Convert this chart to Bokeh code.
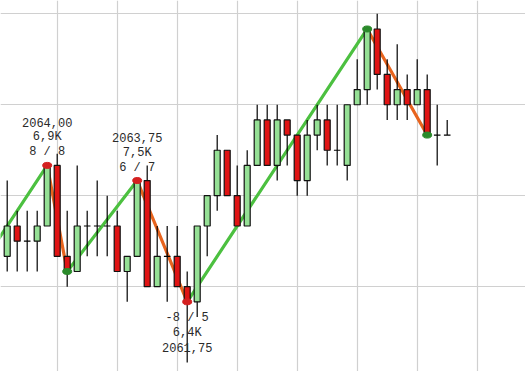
from bokeh.plotting import figure
from bokeh.models import Range1d, FixedTicker, ColumnDataSource
from bokeh.core.properties import value
from bokeh.embed import file_html
from bokeh.resources import INLINE

# ---- data ----
opens = [2062.50, 2063.00, 2062.75, 2062.75, 2063.00, 2064.00, 2062.50, 2062.25, 2063.00, 2063.00,
         2063.00, 2063.00, 2062.25, 2062.50, 2063.75, 2062.00, 2062.50, 2062.50, 2062.00, 2061.75,
         2063.00, 2063.50, 2064.25, 2063.50, 2063.00, 2064.00, 2064.75, 2064.00, 2064.75, 2064.50,
         2063.75, 2064.50, 2064.75, 2064.25, 2064.00, 2065.00, 2065.25, 2066.25, 2065.50, 2065.00,
         2065.25, 2065.00, 2065.25, 2064.50, 2064.50]
highs = [2063.75, 2063.25, 2063.25, 2063.25, 2064.00, 2064.19, 2063.25, 2064.00, 2063.25, 2063.75,
         2063.50, 2063.25, 2062.50, 2063.75, 2064.00, 2063.00, 2063.00, 2063.00, 2062.25, 2063.00,
         2063.50, 2064.50, 2064.25, 2064.00, 2064.25, 2065.00, 2065.00, 2065.00, 2064.75, 2064.50,
         2064.75, 2065.00, 2065.00, 2065.00, 2065.00, 2065.75, 2066.25, 2066.50, 2065.75, 2066.00,
         2065.50, 2065.75, 2065.50, 2065.00, 2064.75]
lows = [2062.25, 2062.25, 2062.25, 2062.25, 2063.00, 2062.50, 2062.00, 2062.25, 2062.50, 2062.50,
        2062.50, 2062.25, 2061.75, 2062.50, 2062.00, 2062.00, 2061.75, 2062.00, 2060.75, 2061.50,
        2062.50, 2063.25, 2063.50, 2063.00, 2063.00, 2064.00, 2064.00, 2063.75, 2064.00, 2063.50,
        2063.50, 2064.25, 2064.00, 2064.00, 2063.75, 2065.00, 2065.00, 2065.25, 2064.75, 2064.75,
        2064.75, 2065.00, 2064.50, 2064.00, 2064.50]
closes = [2063.00, 2062.75, 2062.75, 2063.00, 2064.00, 2062.50, 2062.25, 2063.00, 2063.00, 2063.00,
          2063.00, 2062.25, 2062.50, 2063.75, 2062.00, 2062.50, 2062.50, 2062.00, 2061.75, 2063.00,
          2063.50, 2064.25, 2063.50, 2063.00, 2064.00, 2064.75, 2064.00, 2064.75, 2064.50, 2063.75,
          2064.50, 2064.75, 2064.25, 2064.25, 2065.00, 2065.25, 2066.25, 2065.50, 2065.00, 2065.25,
          2065.00, 2065.25, 2064.50, 2064.50, 2064.50]

pivot_idx = [-3, 4, 6, 13, 18, 36, 42]
pivot_price = [2062.25, 2064.00, 2062.25, 2063.75, 2061.75, 2066.25, 2064.50]
pivot_dot_colors = [None, "#d42020", "#2a8a2a", "#d42020", "#d42020", "#2a8a2a", "#2a8a2a"]

label_idx = [4, 13, 18]
label_price = ["2064,00", "2063,75", "2061,75"]
label_volume = ["6,9K", "7,5K", "6,4K"]
label_count = ["8 / 8", "6 / 7", "-8 / 5"]
label_is_peak = [True, True, False]

grid_x = [5, 11, 17, 23, 29, 35, 41, 47]
grid_y = [2062.0, 2063.5, 2065.0, 2066.5]

# ---- figure ----
p = figure(width=525, height=371, output_backend="svg", toolbar_location=None,
           x_range=Range1d(-0.67, 51.83), y_range=Range1d(2060.60, 2066.72),
           x_axis_location=None, y_axis_location=None, min_border=0)
p.outline_line_color = None
p.background_fill_color = "white"
p.border_fill_color = "white"
p.xgrid.ticker = FixedTicker(ticks=grid_x)
p.ygrid.ticker = FixedTicker(ticks=grid_y)
p.grid.grid_line_color = "#d0d0d0"
p.grid.grid_line_width = 1.2

idx = list(range(len(opens)))

# zigzag (behind the candles)
zx0, zy0, zx1, zy1, zc = [], [], [], [], []
for a in range(len(pivot_idx) - 1):
    zx0.append(pivot_idx[a]); zy0.append(pivot_price[a])
    zx1.append(pivot_idx[a + 1]); zy1.append(pivot_price[a + 1])
    zc.append("#4cc040" if pivot_price[a + 1] > pivot_price[a] else "#e8641e")
p.segment(x0=zx0, y0=zy0, x1=zx1, y1=zy1, line_color=zc, line_width=3.2, line_cap="round")

# wicks
p.segment(x0=idx, y0=lows, x1=idx, y1=highs, line_color="black", line_width=1.2)

# bodies
bx, btop, bbot, bcol = [], [], [], []
dx, dy = [], []
for i, o, c in zip(idx, opens, closes):
    if c > o:
        bx.append(i); btop.append(c); bbot.append(o); bcol.append("#95e095")
    elif c < o:
        bx.append(i); btop.append(o); bbot.append(c); bcol.append("#e01414")
    else:
        dx.append(i); dy.append(c)
p.vbar(x=bx, width=0.6, top=btop, bottom=bbot, fill_color=bcol, line_color="#111111", line_width=1.2)
p.segment(x0=[x - 0.33 for x in dx], y0=dy, x1=[x + 0.33 for x in dx], y1=dy,
          line_color="black", line_width=1.2)

# pivot dots
dots_x = [x for x, c in zip(pivot_idx, pivot_dot_colors) if c]
dots_y = [y for y, c in zip(pivot_price, pivot_dot_colors) if c]
dots_c = [c for c in pivot_dot_colors if c]
p.ellipse(x=dots_x, y=dots_y, width=9, height=6, width_units="screen", height_units="screen",
          fill_color=dots_c, line_color=dots_c)

# labels
tx, ty, tt, toff = [], [], [], []
for i, pr, vol, cnt, peak in zip(label_idx, label_price, label_volume, label_count, label_is_peak):
    yv = pivot_price[pivot_idx.index(i)]
    lines = [pr, vol, cnt] if peak else [cnt, vol, pr]
    offs = [-43, -28, -13] if peak else [16, 31, 46]
    for t, o in zip(lines, offs):
        tx.append(i); ty.append(yv); tt.append(t); toff.append(o)
src = ColumnDataSource(dict(x=tx, y=ty, t=tt, off=toff))
p.text(x="x", y="y", text="t", y_offset="off", source=src, text_align="center",
       text_baseline="middle", text_font=value("Liberation Mono"), text_font_size="12px",
       text_color="#2a2a2a")

open("out.html", "w").write(file_html(p, INLINE))
